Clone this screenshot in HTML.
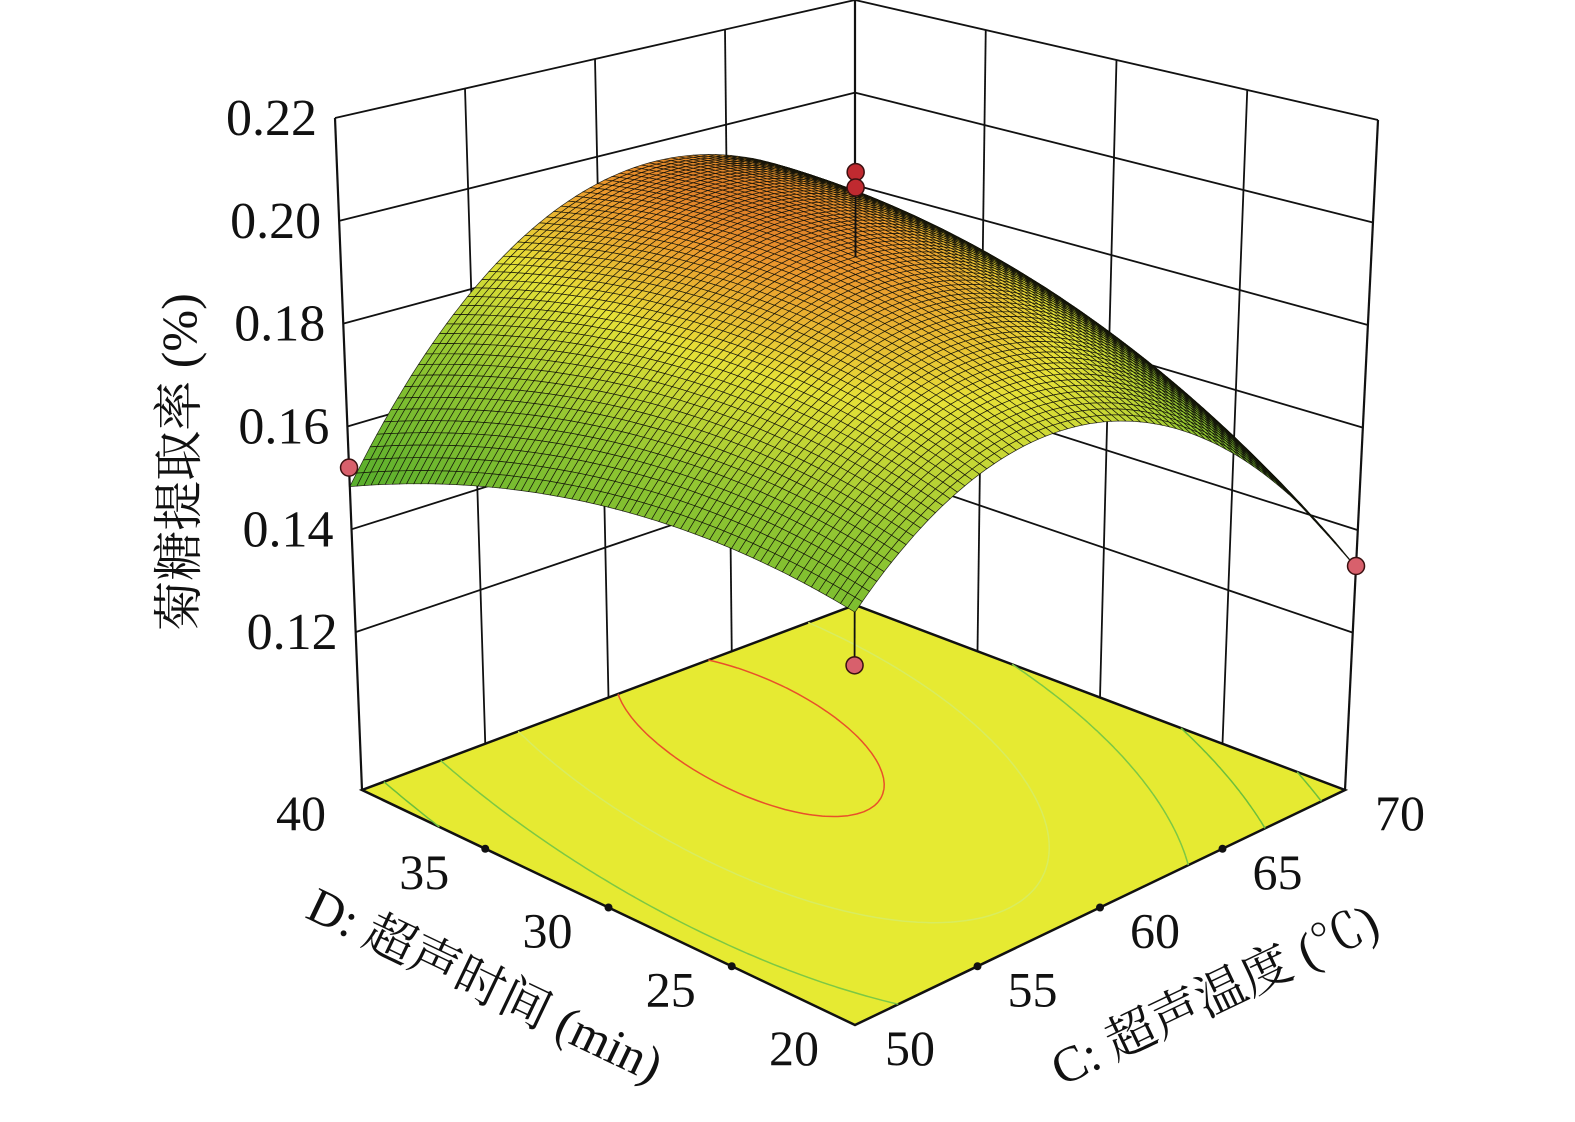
<!DOCTYPE html>
<html><head><meta charset="utf-8">
<style>
html,body{margin:0;padding:0;background:#fff;}
svg{display:block;}
text{font-family:"Liberation Serif","Noto Serif CJK SC","Noto Sans CJK SC",serif;fill:#111;}
</style></head>
<body>
<svg id="chart" width="1575" height="1122" viewBox="0 0 1575 1122" xmlns="http://www.w3.org/2000/svg">
<g id="walls"></g>
<g id="floor"></g>
<g id="lowmarks"></g>
<g id="surface"></g>
<g id="marks"></g>
<g id="labels"></g>
</svg>
<script>
// ---- data ----
const zTicks = [0.12, 0.14, 0.16, 0.18, 0.20, 0.22];
const zTickLabels = ["0.12", "0.14", "0.16", "0.18", "0.20", "0.22"];
const cTicks = [50, 55, 60, 65, 70];
const dTicks = [20, 25, 30, 35, 40];
// quadratic model coefficients (coded): b0, bC, bD, bCC, bDD, bCD
const coef = [0.1955, -0.0003, 0.0075, -0.032, -0.0085, 0.0145];
const markerC = [50, 70, 60, 60, 60];
const markerD = [40, 20, 30, 30, 30];
const markerZ = [0.152, 0.133, 0.212, 0.209, 0.116];
const contourLevels = [0.14, 0.155, 0.17, 0.185, 0.195];
const contourColors = ["#6cbf3c", "#6cbf3c", "#7cc844", "#d8ec60", "#e8502a"];

// ---- projection ----
const Z0 = 0.0893, ZT = 0.22;
const Ff = [855,1025], Lf=[362,790], Rf=[1345,790], Bf=[855,605];
const Ft = [855,286], Lt=[335,118], Rt=[1378,120], Bt=[855,0];
function bil(a,b,c,d,u,v,i){return (1-u)*(1-v)*a[i]+(1-u)*v*b[i]+u*(1-v)*c[i]+u*v*d[i];}
function proj(C,D,z){
  const u=(C-50)/20, v=(D-20)/20;
  const fx=bil(Ff,Lf,Rf,Bf,u,v,0), fy=bil(Ff,Lf,Rf,Bf,u,v,1);
  const tx=bil(Ft,Lt,Rt,Bt,u,v,0), ty=bil(Ft,Lt,Rt,Bt,u,v,1);
  const t=(z-Z0)/(ZT-Z0);
  return [fx+(tx-fx)*t, fy+(ty-fy)*t];
}
function model(C,D){
  const x=(C-60)/10, y=(D-30)/10;
  return coef[0]+coef[1]*x+coef[2]*y+coef[3]*x*x+coef[4]*y*y+coef[5]*x*y;
}
const NS="http://www.w3.org/2000/svg";
function mk(tag,attrs,parent){const e=document.createElementNS(NS,tag);for(const k in attrs)e.setAttribute(k,attrs[k]);parent.appendChild(e);return e;}
function line(p,q,parent,w,col){return mk('line',{x1:p[0],y1:p[1],x2:q[0],y2:q[1],stroke:col||'#111','stroke-width':w||2},parent);}

// ---- walls ----
const walls=document.getElementById('walls');
zTicks.forEach(z=>{
  const l1=line(proj(50,40,z),proj(70,40,z),walls,1.8);
  
  
  const l2=line(proj(70,40,z),proj(70,20,z),walls,1.8);
  
  
});
[55,60,65].forEach(c=>{
  const l=line(proj(c,40,Z0),proj(c,40,ZT),walls,1.8);
  
  
});
[25,30,35].forEach(d=>{
  const l=line(proj(70,d,Z0),proj(70,d,ZT),walls,1.8);
  
  
});
[[50,40],[70,40],[70,20]].forEach(p=>{
  const l=line(proj(p[0],p[1],Z0),proj(p[0],p[1],ZT),walls,2.2);
  
  
});

// ---- floor ----
const floor=document.getElementById('floor');
const fpts=[proj(50,20,Z0),proj(50,40,Z0),proj(70,40,Z0),proj(70,20,Z0)];
const fp=mk('polygon',{points:fpts.map(p=>p.join(',')).join(' '),fill:'#e6ea32',stroke:'#111','stroke-width':2.5},floor);


const N=80;
contourLevels.forEach((lev,li)=>{
  let d='';
  for(let i=0;i<N;i++)for(let j=0;j<N;j++){
    const c0=50+20*i/N,c1=50+20*(i+1)/N,d0=20+20*j/N,d1=20+20*(j+1)/N;
    const pts=[[c0,d0],[c1,d0],[c1,d1],[c0,d1]];
    const vals=pts.map(p=>model(p[0],p[1]));
    const cross=[];
    for(let k=0;k<4;k++){
      const a=vals[k],b=vals[(k+1)%4];
      if((a<lev)!==(b<lev)){
        const t=(lev-a)/(b-a);
        const P=pts[k],Q=pts[(k+1)%4];
        cross.push(proj(P[0]+(Q[0]-P[0])*t,P[1]+(Q[1]-P[1])*t,Z0));
      }
    }
    if(cross.length>=2)d+=`M${cross[0][0].toFixed(1)},${cross[0][1].toFixed(1)}L${cross[1][0].toFixed(1)},${cross[1][1].toFixed(1)}`;
    if(cross.length===4)d+=`M${cross[2][0].toFixed(1)},${cross[2][1].toFixed(1)}L${cross[3][0].toFixed(1)},${cross[3][1].toFixed(1)}`;
  }
  const p=mk('path',{d:d,stroke:contourColors[li],'stroke-width':1.5,fill:'none'},floor);
  
  
});

const low=document.getElementById('lowmarks');
const marks=document.getElementById('marks');
function drawMarker(i,parent){
  const zs=model(markerC[i],markerD[i]);
  const above=markerZ[i]>=zs;
  const p=proj(markerC[i],markerD[i],markerZ[i]);
  const s=proj(markerC[i],markerD[i],zs);
  const dl=line(s,p,parent,1.8);
  
  
  const c=mk('circle',{cx:p[0],cy:p[1],r:8.5,fill:above&&markerZ[i]>0.2?'#c02a30':'#d8606c',stroke:'#3a1010','stroke-width':1.5},parent);
  
  
}

// ---- surface ----
const surf=document.getElementById('surface');
const cstops=[[0.13,[60,170,150]],[0.15,[90,175,45]],[0.172,[150,200,50]],[0.185,[230,225,55]],[0.195,[235,150,45]],[0.204,[190,70,30]]];
function col(z){
  if(z<=cstops[0][0])return 'rgb(60,170,150)';
  for(let k=1;k<cstops.length;k++){
    if(z<=cstops[k][0]){
      const a=cstops[k-1],b=cstops[k],f=(z-a[0])/(b[0]-a[0]);
      return 'rgb('+a[1].map((v,m)=>Math.round(v+(b[1][m]-v)*f)).join(',')+')';
    }
  }
  return 'rgb(190,70,30)';
}
const M=70, quads=[];
for(let i=0;i<M;i++)for(let j=0;j<M;j++){
  const c0=50+20*i/M,c1=50+20*(i+1)/M,d0=20+20*j/M,d1=20+20*(j+1)/M;
  quads.push({i,j,c0,c1,d0,d1,depth:(i+j)});
}
quads.sort((a,b)=>b.depth-a.depth);
let frag=document.createDocumentFragment();
quads.forEach(q=>{
  const z00=model(q.c0,q.d0),z10=model(q.c1,q.d0),z11=model(q.c1,q.d1),z01=model(q.c0,q.d1);
  const P=[proj(q.c0,q.d0,z00),proj(q.c1,q.d0,z10),proj(q.c1,q.d1,z11),proj(q.c0,q.d1,z01)];
  const zm=(z00+z10+z11+z01)/4;
  const e=document.createElementNS(NS,'polygon');
  e.setAttribute('points',P.map(p=>p[0].toFixed(1)+','+p[1].toFixed(1)).join(' '));
  e.setAttribute('fill',col(zm));
  e.setAttribute('stroke','#101008');
  e.setAttribute('stroke-width','0.7');
  e.setAttribute('stroke-opacity','0.9');
  frag.appendChild(e);
});
surf.appendChild(frag);

for(let i=0;i<markerZ.length;i++){
  drawMarker(i, markerZ[i]>=model(markerC[i],markerD[i])?marks:low);
}

// ---- labels ----
const lab=document.getElementById('labels');
zTicks.forEach((z,k)=>{
  const p=proj(50,40,z);
  const t=mk('text',{x:p[0]-18,y:p[1]+17,'font-size':52,'text-anchor':'end'},lab);
  t.textContent=zTickLabels[k];
  
  
});
dTicks.forEach(d=>{
  const p=proj(50,d,Z0);
  if(d>20&&d<40){const c=mk('circle',{cx:p[0],cy:p[1],r:4,fill:'#111'},lab);
    
    }
  const t=mk('text',{x:p[0]-36,y:p[1]+40,'font-size':50,'text-anchor':'end'},lab);
  t.textContent=String(d);
  
  
});
cTicks.forEach(c=>{
  const p=proj(c,20,Z0);
  if(c>50&&c<70){const m=mk('circle',{cx:p[0],cy:p[1],r:4,fill:'#111'},lab);
    
    }
  const t=mk('text',{x:p[0]+30,y:p[1]+40,'font-size':50,'text-anchor':'start'},lab);
  t.textContent=String(c);
  
  
});
const zt=mk('text',{x:0,y:0,'font-size':50,'text-anchor':'middle',transform:'translate(196,462) rotate(-90)'},lab);
zt.textContent='菊糖提取率 (%)';


const dt=mk('text',{x:0,y:0,'font-size':50,'text-anchor':'middle',transform:'translate(478,1000) rotate(25.5)'},lab);
dt.textContent='D: 超声时间 (min)';


const ct=mk('text',{x:0,y:0,'font-size':50,'text-anchor':'middle',transform:'translate(1222,1010) rotate(-25.5)'},lab);
ct.textContent='C: 超声温度 (℃)';


</script>
</body></html>
